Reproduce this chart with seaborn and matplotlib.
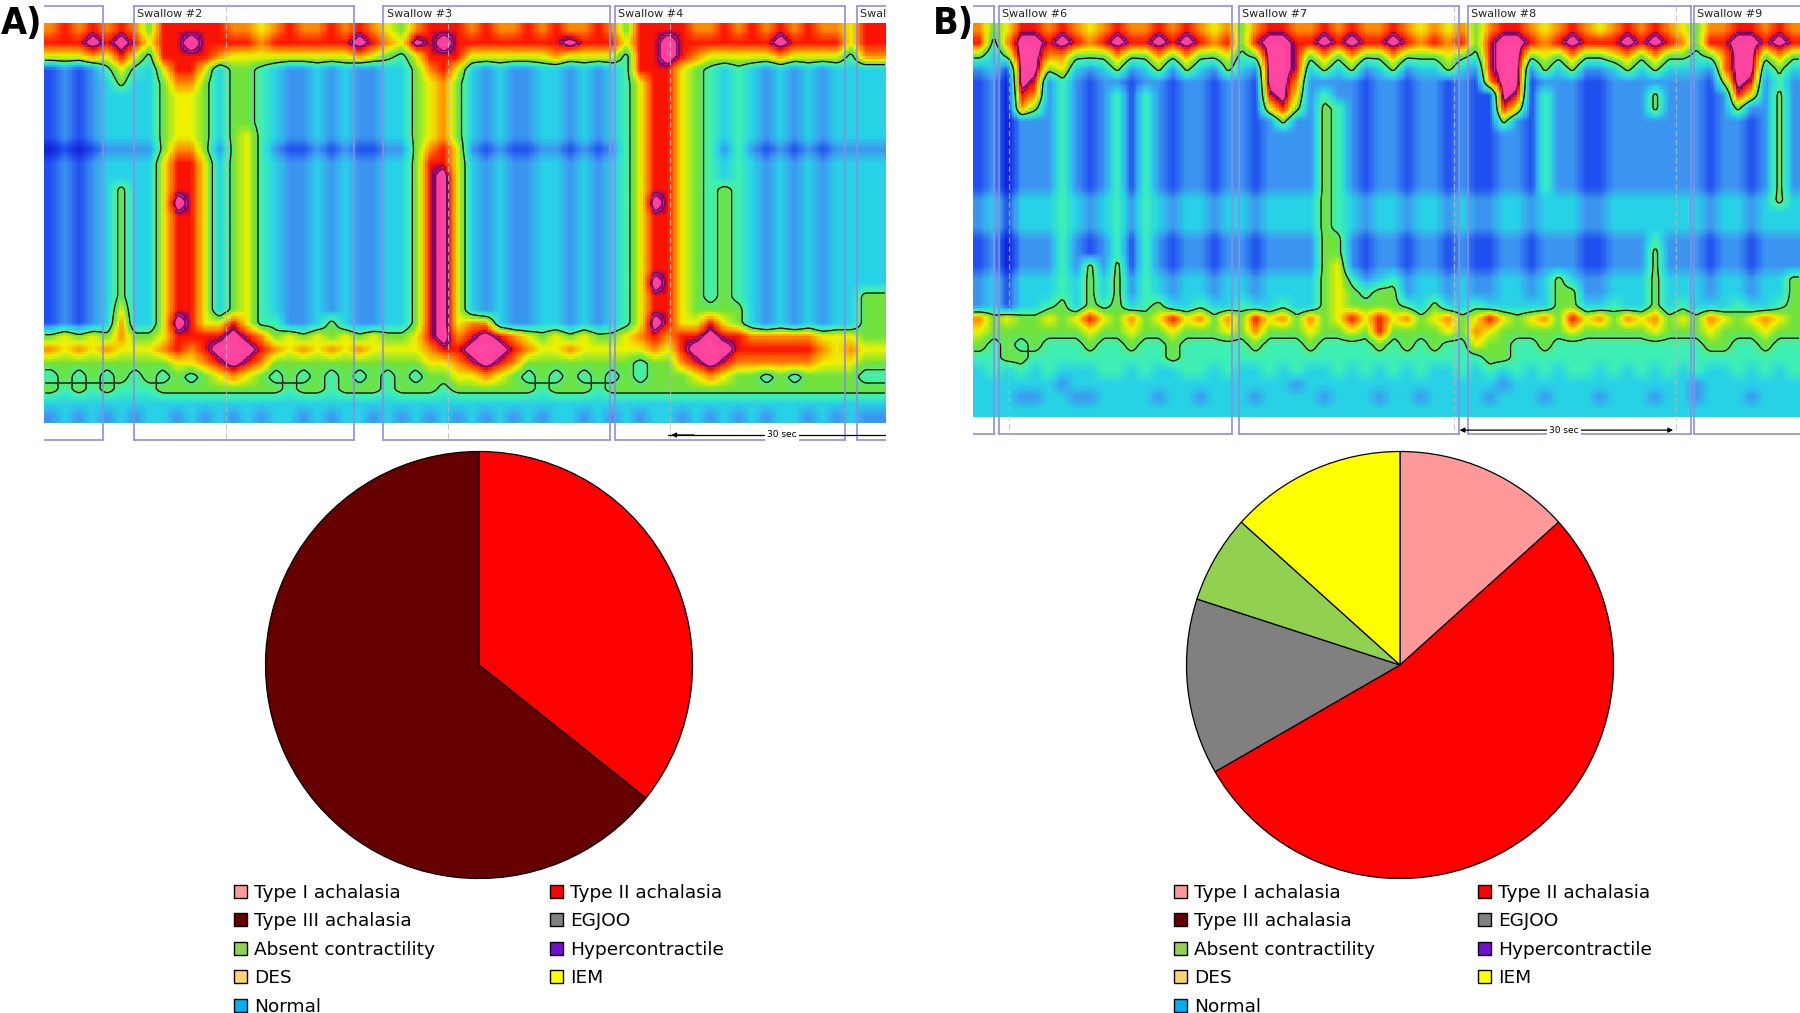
import numpy as np
import matplotlib
matplotlib.use('Agg')
import matplotlib.pyplot as plt
import matplotlib.patches as mpatches
from matplotlib.colors import LinearSegmentedColormap
import seaborn as sns

# ---- pie data (patients per diagnosis) ----
categories = ['Type I achalasia', 'Type II achalasia', 'Type III achalasia', 'EGJOO',
              'Absent contractility', 'Hypercontractile', 'DES', 'IEM', 'Normal']
cat_colors = ['#ff9999', '#ff0000', '#660000', '#808080', '#92d050',
              '#7010d0', '#ffd470', '#ffff00', '#00b0f0']
counts_a = [0, 5, 9, 0, 0, 0, 0, 0, 0]
counts_b = [2, 8, 0, 2, 1, 0, 0, 2, 0]

# ---- pressure topography, coarse levels 0 (low) .. 9 (high) ----
hpt_a = [
    "7878787588" "8887767877" "8787657888" "7877878778" "7588887787" "8787877688",
    "8889898688" "9888878888" "8898769898" "8888888988" "8688988888" "8898888688",
    "6667686488" "8876666666" "6676546888" "6666667666" "6488987666" "6676666477",
    "1212464368" "8635543223" "2322335786" "3232233232" "3488865434" "3232323333",
    "1212353357" "7535543223" "2322335675" "3232233232" "3468865434" "3232323333",
    "1212333356" "6535543223" "2322335675" "3232233232" "3468865434" "3232323333",
    "1212333356" "6535543223" "2322335675" "3232233232" "3468865434" "3232323333",
    "1212333356" "6535543223" "2322335675" "3232233232" "3468865434" "3232323333",
    "1212333356" "6535643223" "2322335675" "3232233232" "3468865434" "3232323333",
    "0101222257" "7525642112" "1211225786" "2121122121" "2468865424" "2121212222",
    "1212333368" "8635643223" "2322335886" "3232233232" "3468865434" "3232323333",
    "1212333368" "8635643223" "2322335896" "3232233232" "3468865434" "3232323333",
    "1212353368" "8635643223" "2322335896" "3232233232" "3468865454" "3232323333",
    "1212353369" "8635643223" "2322335896" "3232233232" "3469865454" "3232323333",
    "1212353368" "8635643223" "2322335896" "3232233232" "3468865454" "3232323333",
    "1212353368" "8635643223" "2322335896" "3232233232" "3468865454" "3232323333",
    "1212353368" "8635643223" "2322335896" "3232233232" "3468865454" "3232323333",
    "1212353368" "8635643223" "2322335896" "3232233232" "3468865454" "3232323333",
    "1212353368" "8635643223" "2322335896" "3232233232" "3468865454" "3232323333",
    "1212353368" "8635643223" "2322335896" "3232233232" "3469865454" "3232323333",
    "1212353368" "8635643223" "2322335896" "3232233232" "3468865454" "3232323355",
    "1212363368" "8635643223" "2322335896" "3232233232" "3468865555" "3232323355",
    "1212373369" "8668644223" "5322335896" "7732233232" "3469866865" "3232323355",
    "5656575568" "8889875656" "5656556897" "8987656565" "5678788988" "7777766655",
    "7676766678" "7899987676" "7676666788" "9998766766" "6667689998" "8888876766",
    "5555555556" "6789875555" "5555555667" "8987555555" "5545578987" "7777766655",
    "4545454545" "4567654545" "4545454556" "6765454545" "4545556765" "5454555544",
    "5454544455" "5555555455" "4555455545" "5555545554" "5555555555" "5555555555",
    "3333333333" "3333333333" "3333333333" "3333333333" "3333333333" "3333333333",
    "2323232332" "3232323323" "2332323232" "3232323323" "2323323232" "3233232322",
]

hpt_b = [
    "7568878767" "8778787675" "7887787877" "8767675788" "7678767878" "7657788787",
    "8479989878" "9889898785" "8998898988" "9878785899" "8789888989" "8758899898",
    "5359977555" "7557575564" "5998575755" "7555654899" "5657556757" "5545799575",
    "2319956323" "5235253253" "2998353523" "5233532899" "2535223535" "3332799353",
    "1209824212" "2122122122" "1997222212" "2122121799" "1222112222" "2221598242",
    "1208724212" "4142122122" "1896242212" "2122121198" "1422112225" "2221286252",
    "1207524212" "4142122122" "1685254212" "2122121186" "1422112225" "2221252252",
    "1202224212" "4142122122" "1252254212" "2122121152" "1422112222" "2221221252",
    "1202224212" "4142122122" "1222254212" "2122121122" "1422112222" "2221221252",
    "1202224212" "4142122122" "1222254212" "2122121122" "1422112222" "2221221252",
    "1202224212" "4142122122" "1222254212" "2122121122" "1422112222" "2221221252",
    "1202224212" "4142122122" "1222254212" "2122121122" "1422112222" "2221221252",
    "1202224212" "4142122122" "1222254212" "2122121122" "1422112222" "2221221252",
    "2313334323" "4243233233" "2333354323" "3233232233" "2333223333" "3332332353",
    "2313334323" "4243233233" "2333354323" "3233232233" "2333223333" "3332332333",
    "2313334323" "4243233233" "2333354323" "3233232233" "2333223333" "3332332333",
    "1202224212" "4142122122" "1222255212" "2122121122" "1222112224" "2221221222",
    "1202224212" "4142122122" "1222255212" "2122121122" "1222112225" "2221221222",
    "1202224252" "5142122122" "1222256212" "2122121122" "1222112225" "2221221222",
    "2313334353" "5243233233" "2333356423" "4233232233" "2353223335" "3332332335",
    "2313334353" "5243233233" "2333356545" "5233232233" "2355223335" "3332332335",
    "2313345354" "5345334334" "3343356555" "5435334333" "3355334335" "3433343345",
    "7565565686" "5756867575" "8675756868" "6756756865" "6758675767" "5657656765",
    "6555555565" "5655655565" "7555655658" "5555657655" "5556555556" "5556555655",
    "5454544454" "4544544444" "5444544445" "4545446554" "4544444444" "4445544544",
    "4455444444" "4444544444" "4444444444" "4444444554" "4444444444" "4444444444",
    "3434343334" "4343344343" "3434334343" "4343343434" "3434434343" "4343343434",
    "3333332333" "3333333333" "3332333333" "3333333323" "3333333333" "3323333333",
    "3332233223" "3332332333" "2333323332" "3323333233" "3233323332" "3323332333",
    "3333333333" "3333333333" "3333333333" "3333333333" "3333333333" "3333333333",
]

# swallow windows (start, end, label) in grid columns
swallows_a = [(-2.0, 4.2, ''), (6.41, 22.09, 'Swallow #2'), (24.19, 40.3, 'Swallow #3'),
              (40.67, 57.08, 'Swallow #4'), (57.9, 75.0, 'Swallow #5')]
swallows_b = [(-2.0, 1.52, ''), (1.89, 18.79, 'Swallow #6'), (19.3, 35.26, 'Swallow #7'),
              (35.9, 52.09, 'Swallow #8'), (52.31, 70.0, 'Swallow #9')]
markers_a = [13.0, 28.8, 44.6]
markers_b = [2.6, 34.9, 51.0]

W, H = 1800, 1013

sns.set_theme(style='white')
plt.rcParams['font.family'] = ['DejaVu Sans']
plt.rcParams['text.color'] = 'black'

hpt_cmap = LinearSegmentedColormap.from_list('hpt', [
    (0 / 9, '#1020d8'), (1 / 9, '#2050f0'), (2 / 9, '#3c96f0'), (3 / 9, '#28d2e6'),
    (4 / 9, '#3ef0b4'), (5 / 9, '#6ee23c'), (6 / 9, '#eef200'), (7 / 9, '#ff8c00'),
    (8 / 9, '#ff1400'), (8.25 / 9, '#780070'), (8.5 / 9, '#ff3c9c'), (1.0, '#ff46a0')])


def px_axes(fig, x0, y0, w, h):
    return fig.add_axes([x0 / W, 1 - (y0 + h) / H, w / W, h / H])


def draw_hpt(fig, rows, swallows, markers, x0, x1, top, bottom, scale, K=6):
    grid = np.array([[int(c) for c in r] for r in rows], dtype=float)
    nr, nc = grid.shape
    per_row = (bottom - top) / nr
    ylo, yhi = -1.4, 31.6
    ax = px_axes(fig, x0, top + ylo * per_row, x1 - x0, (yhi - ylo) * per_row)

    # bilinear upsampling of the coarse levels
    u = (np.arange(nc * K) + 0.5) / K - 0.5
    v = (np.arange(nr * K) + 0.5) / K - 0.5
    tmp = np.array([np.interp(u, np.arange(nc), r) for r in grid])
    fine = np.array([np.interp(v, np.arange(nr), c) for c in tmp.T]).T

    sns.heatmap(fine, ax=ax, cmap=hpt_cmap, vmin=0, vmax=9, cbar=False,
                xticklabels=False, yticklabels=False)
    xs = np.arange(nc * K) + 0.5
    ys = np.arange(nr * K) + 0.5
    ax.contour(xs, ys, fine, levels=[4.5], colors='black', linewidths=0.9)
    ax.contour(xs, ys, fine, levels=[8.4], colors='#4a0048', linewidths=0.7)

    btop, bbot = -1.28 * K, (30 + 1.28) * K
    for s0, s1, lab in swallows:
        a, b = max(s0, -0.5) * K, min(s1, nc + 0.5) * K
        ax.plot([a, b], [btop, btop], color='#8c8ce6', lw=1.2)
        ax.plot([a, b], [bbot, bbot], color='#8c8ce6', lw=1.2)
        for e in (s0, s1):
            if 0 <= e <= nc:
                ax.plot([e * K, e * K], [btop, bbot], color='#8c8ce6', lw=1.2)
        if lab:
            ax.text((s0 + 0.22) * K, -0.66 * K, lab, fontsize=8, va='center', ha='left',
                    color='#222222', clip_on=True)
    for m in markers:
        ax.plot([m * K, m * K], [btop, bbot], color='#bbbbbb', lw=0.8, ls=(0, (5, 3)), alpha=0.8)

    sx0, sx1, sy, sxt, both = scale
    if both:
        ax.annotate('', xy=(sx0 * K, sy * K), xytext=(sx1 * K, sy * K),
                    arrowprops=dict(arrowstyle='<|-|>', color='black', lw=0.9, mutation_scale=7))
    else:
        ax.plot([sx0 * K, sx1 * K], [sy * K, sy * K], color='black', lw=0.9)
        ax.annotate('', xy=(sx0 * K, sy * K), xytext=((sx0 + 2) * K, sy * K),
                    arrowprops=dict(arrowstyle='-|>', color='black', lw=0.9, mutation_scale=7))
    ax.text(sxt * K, sy * K, '30 sec', fontsize=6.5, ha='center', va='center',
            bbox=dict(facecolor='white', edgecolor='none', pad=1.5), clip_on=True)

    ax.set_xlim(0, nc * K)
    ax.set_ylim(yhi * K, ylo * K)
    ax.set_axis_off()
    return ax


def draw_pie(fig, counts, cx, cy, r):
    side = 2 * 1.01 * r
    ax = px_axes(fig, cx - side / 2, cy - side / 2, side, side)
    vals = [c for c in counts if c > 0]
    cols = [col for c, col in zip(counts, cat_colors) if c > 0]
    ax.pie(vals, colors=cols, startangle=90, counterclock=False,
           wedgeprops=dict(edgecolor='black', linewidth=0.9))
    ax.set_xlim(-1.01, 1.01)
    ax.set_ylim(-1.01, 1.01)
    ax.set_aspect('equal')
    ax.set_axis_off()


def draw_legend(fig, x_left, x_right, y_top):
    handles = [mpatches.Patch(facecolor=c, edgecolor='black', linewidth=1.0) for c in cat_colors]
    for idx, xpos in ((range(0, 9, 2), x_left), (range(1, 9, 2), x_right)):
        leg = fig.legend([handles[i] for i in idx], [categories[i] for i in idx],
                         loc='upper left', bbox_to_anchor=(xpos / W, 1 - y_top / H),
                         frameon=False, borderpad=0, borderaxespad=0, fontsize=13.3,
                         handlelength=0.7, handleheight=0.7, handletextpad=0.38,
                         labelspacing=0.57)
        for t in leg.get_texts():
            t.set_color('black')


fig = plt.figure(figsize=(W / 100, H / 100), dpi=100)
fig.patch.set_facecolor('white')

draw_hpt(fig, hpt_a, swallows_a, markers_a, 44, 886, 23, 423, (44.5, 60.5, 30.9, 52.6, False))
draw_hpt(fig, hpt_b, swallows_b, markers_b, 973, 1800, 23, 417, (35.1, 51.0, 31.0, 42.9, True))

draw_pie(fig, counts_a, 479, 665, 213.5)
draw_pie(fig, counts_b, 1400, 665, 213.5)

draw_legend(fig, 234, 550, 883.5)
draw_legend(fig, 1174, 1478, 883.5)

for lab, lx in (('A)', 1), ('B)', 933)):
    fig.text(lx / W, 1 - 6 / H, lab, fontsize=27, fontweight='bold', va='top', ha='left',
             color='black', fontstretch='condensed',
             family=['Liberation Sans Narrow', 'DejaVu Sans'])

fig.savefig('out.png', dpi=100, facecolor='white')
